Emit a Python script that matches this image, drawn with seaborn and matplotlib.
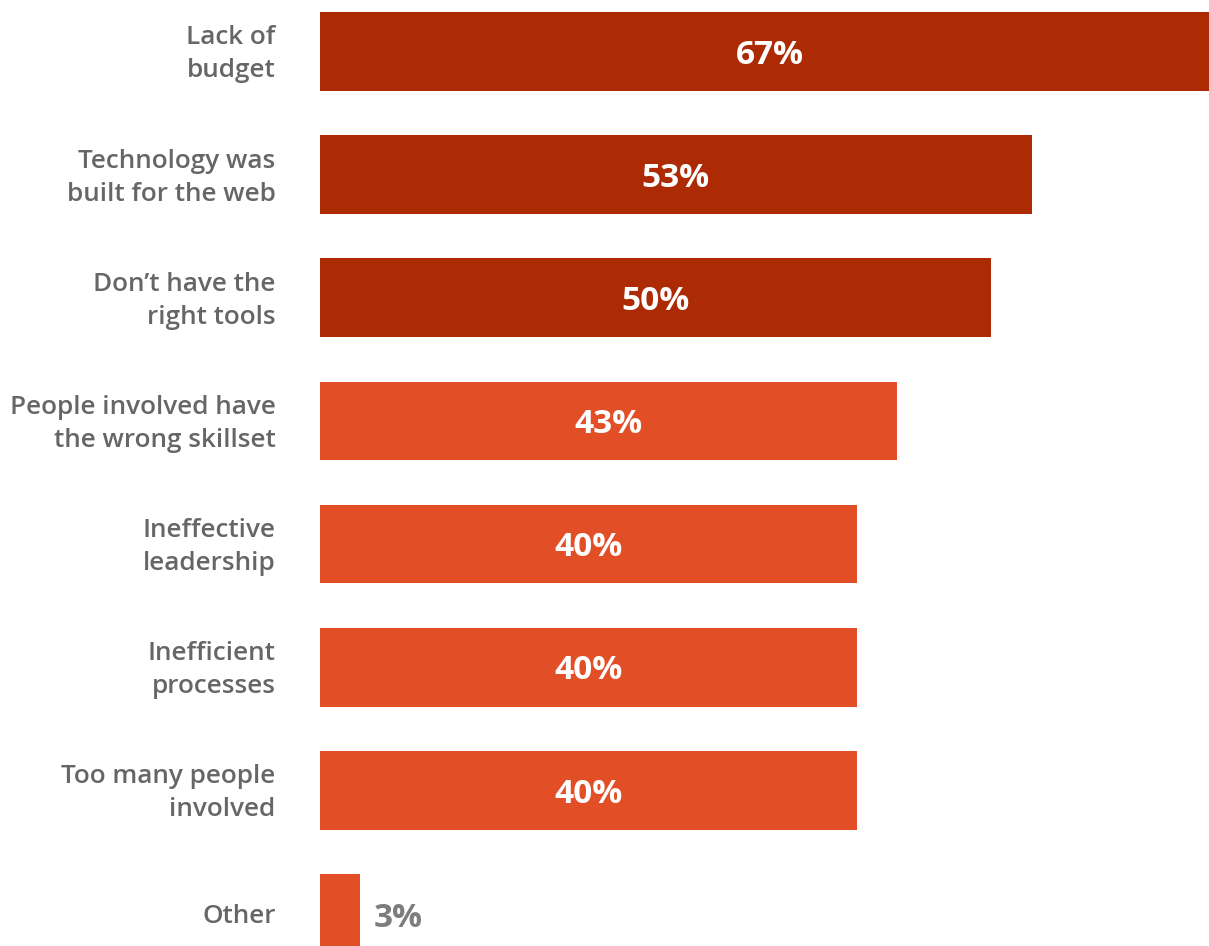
import matplotlib
matplotlib.use("Agg")
import matplotlib.pyplot as plt
import matplotlib.transforms as mtransforms
import seaborn as sns
import pandas as pd

categories = [
    "Lack of\nbudget",
    "Technology was\nbuilt for the web",
    "Don\u2019t have the\nright tools",
    "People involved have\nthe wrong skillset",
    "Ineffective\nleadership",
    "Inefficient\nprocesses",
    "Too many people\ninvolved",
    "Other",
]
values = [67, 53, 50, 43, 40, 40, 40, 3]
groups = ["top", "top", "top", "rest", "rest", "rest", "rest", "rest"]

DARK = "#AD2B04"
ORANGE = "#E24F27"
LABEL_GRAY = "#666666"
VALUE_GRAY = "#7d7d7d"

df = pd.DataFrame({"reason": categories, "pct": values, "group": groups})

sns.set_theme(style="white")
plt.rcParams["font.family"] = ["Open Sans", "DejaVu Sans"]

W, H = 1209, 946
fig = plt.figure(figsize=(W / 100, H / 100), dpi=100)
ax = fig.add_axes([320 / W, 0, 1 - 320 / W, 1])

sns.barplot(
    data=df, y="reason", x="pct", hue="group",
    palette={"top": DARK, "rest": ORANGE},
    orient="h", width=0.64, dodge=False, legend=False,
    saturation=1, linewidth=0, ax=ax,
)

ax.set_xlim(0, 66.2)
ax.set_ylim(7.264, -0.418)
sns.despine(ax=ax, left=True, bottom=True)
ax.set_xlabel("")
ax.set_ylabel("")
ax.set_xticks([])
ax.tick_params(axis="y", length=0, pad=32)

# nudge two-line labels up slightly so the text block sits on the bar centre
lift = mtransforms.ScaledTranslation(0, 4 / 100, fig.dpi_scale_trans)
for lbl in ax.get_yticklabels():
    lbl.set_fontsize(18.8)
    lbl.set_fontweight("semibold")
    lbl.set_color(LABEL_GRAY)
    lbl.set_linespacing(1.42)
    lbl.set_horizontalalignment("right")
    if "\n" in lbl.get_text():
        lbl.set_transform(lbl.get_transform() + lift)

for i, v in enumerate(values):
    if v >= 10:
        ax.text(v / 2, i + 0.03, f"{v}%", ha="center", va="center",
                fontsize=24, fontweight="bold", color="white", clip_on=False)
    else:
        ax.text(v + 1.0, i + 0.04, f"{v}%", ha="left", va="center",
                fontsize=24, fontweight="bold", color=VALUE_GRAY)

fig.savefig("out.png", dpi=100, facecolor="white")
